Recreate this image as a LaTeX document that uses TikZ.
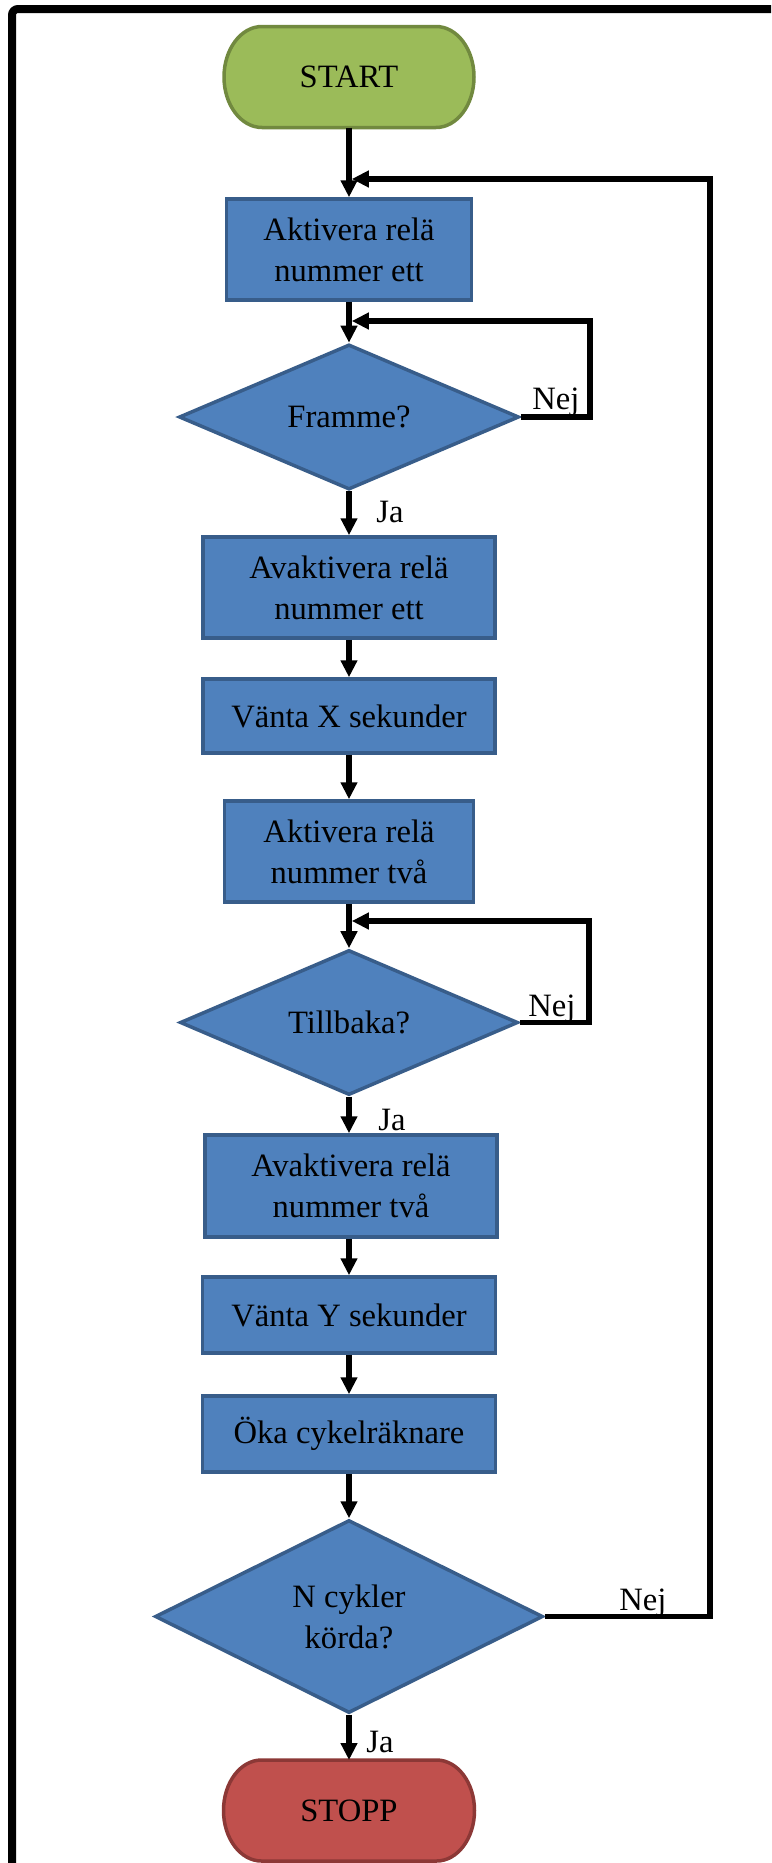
\documentclass[tikz,border=0pt]{standalone}
\usepackage{fontspec}
\setmainfont{Liberation Serif}
\usetikzlibrary{arrows.meta,shapes.geometric,backgrounds}

\definecolor{procfill}{HTML}{4F81BD}
\definecolor{procline}{HTML}{385D8A}
\definecolor{startfill}{HTML}{9BBB59}
\definecolor{startline}{HTML}{71893F}
\definecolor{stopfill}{HTML}{C0504D}
\definecolor{stopline}{HTML}{8C3836}

% terminal outline: flat top and bottom, half-elliptic ends
\newcommand\terminalshape[3]{%
  \draw[line width=1.75pt, fill=#2, draw=#3]
    ([xshift=19pt]#1.north west) -- ([xshift=-19pt]#1.north east)
    arc[start angle=90, end angle=-90, x radius=19pt, y radius=25.25pt]
    -- ([xshift=19pt]#1.south west)
    arc[start angle=270, end angle=90, x radius=19pt, y radius=25.25pt]
    -- cycle;}

\begin{document}
\begin{tikzpicture}[x=0.5pt, y=-0.5pt,
  every node/.style={font=\fontsize{16.3}{20.5}\selectfont, text=black},
  terminal/.style={rectangle, draw=none, inner sep=0pt, outer sep=0pt,
    minimum width=125pt, minimum height=50.5pt},
  process/.style={rectangle, draw=procline, fill=procfill, line width=1.75pt,
    align=center, inner sep=0pt},
  decision/.style={diamond, draw=procline, fill=procfill, line width=1.75pt,
    align=center, inner sep=0pt},
  lbl/.style={anchor=base west, inner sep=0pt},
  flow/.style={line width=2.8pt, line join=miter, -{Triangle[length=8.5pt,width=8pt]}}
]
\useasboundingbox (0,0) rectangle (771,1863);

% page frame
\draw[line width=4pt, rounded corners=3pt] (12,1863) -- (12,9) -- (771,9);

% nodes
\node[terminal] (start) at (349,77) {START};
\node[process, minimum width=122.5pt, minimum height=50.5pt] (box1) at (349,249.5) {Aktivera relä\\nummer ett};
\node[decision, minimum width=170pt, minimum height=72.5pt] (d1) at (349,417) {Framme?};
\node[process, minimum width=146pt, minimum height=50.5pt] (box2) at (349,587.5) {Avaktivera relä\\nummer ett};
\node[process, minimum width=146pt, minimum height=37pt] (box3) at (349,716) {Vänta X sekunder};
\node[process, minimum width=124.5pt, minimum height=50.5pt] (box4) at (349,851.5) {Aktivera relä\\nummer två};
\node[decision, minimum width=169pt, minimum height=72.5pt] (d2) at (349,1022.5) {Tillbaka?};
\node[process, minimum width=146pt, minimum height=51pt] (box5) at (351,1186) {Avaktivera relä\\nummer två};
\node[process, minimum width=146.5pt, minimum height=38pt] (box6) at (349,1315) {Vänta Y sekunder};
\node[process, minimum width=146.5pt, minimum height=38pt] (box7) at (349,1434) {Öka cykelräknare};
\node[decision, minimum width=194pt, minimum height=96.5pt] (d3) at (349,1616.5) {N cykler\\körda?};
\node[terminal, minimum width=125.5pt] (stopp) at (349,1810.5) {STOPP};

\begin{scope}[on background layer]
  \terminalshape{start}{startfill}{startline}
  \terminalshape{stopp}{stopfill}{stopline}
\end{scope}

% branch labels
\node[lbl] (nej1) at (532,409) {Nej};
\node[lbl] (ja1) at (376,522) {Ja};
\node[lbl] (nej2) at (528,1016) {Nej};
\node[lbl] (ja2) at (378,1130) {Ja};
\node[lbl] (nej3) at (619,1610) {Nej};
\node[lbl] (ja3) at (366,1752) {Ja};

% corner points of the return loops
\coordinate (r1) at (710,179);
\coordinate (l1) at (590,321);
\coordinate (l2) at (589,921);

% main flow
\draw[flow] (start.south) -- (box1.north);
\draw[flow] (box1.south) -- (d1.north);
\draw[flow] (d1.south) -- (box2.north);
\draw[flow] (box2.south) -- (box3.north);
\draw[flow] (box3.south) -- (box4.north);
\draw[flow] (box4.south) -- (d2.north);
\draw[flow] (d2.south) -- (box2.north |- box5.north);
\draw[flow] (box2.south |- box5.south) -- (box6.north);
\draw[flow] (box6.south) -- (box7.north);
\draw[flow] (box7.south) -- (d3.north);
\draw[flow] (d3.south) -- (stopp.north);

% return loops
\draw[flow] (d1.east) -| (l1) -- ([xshift=1.4pt]box1.south |- l1);
\draw[flow] (d2.east) -| (l2) -- ([xshift=1.4pt]box4.south |- l2);
\draw[flow] (d3.east) -| (r1) -- ([xshift=1.4pt]start.south |- r1);
\end{tikzpicture}
\end{document}
